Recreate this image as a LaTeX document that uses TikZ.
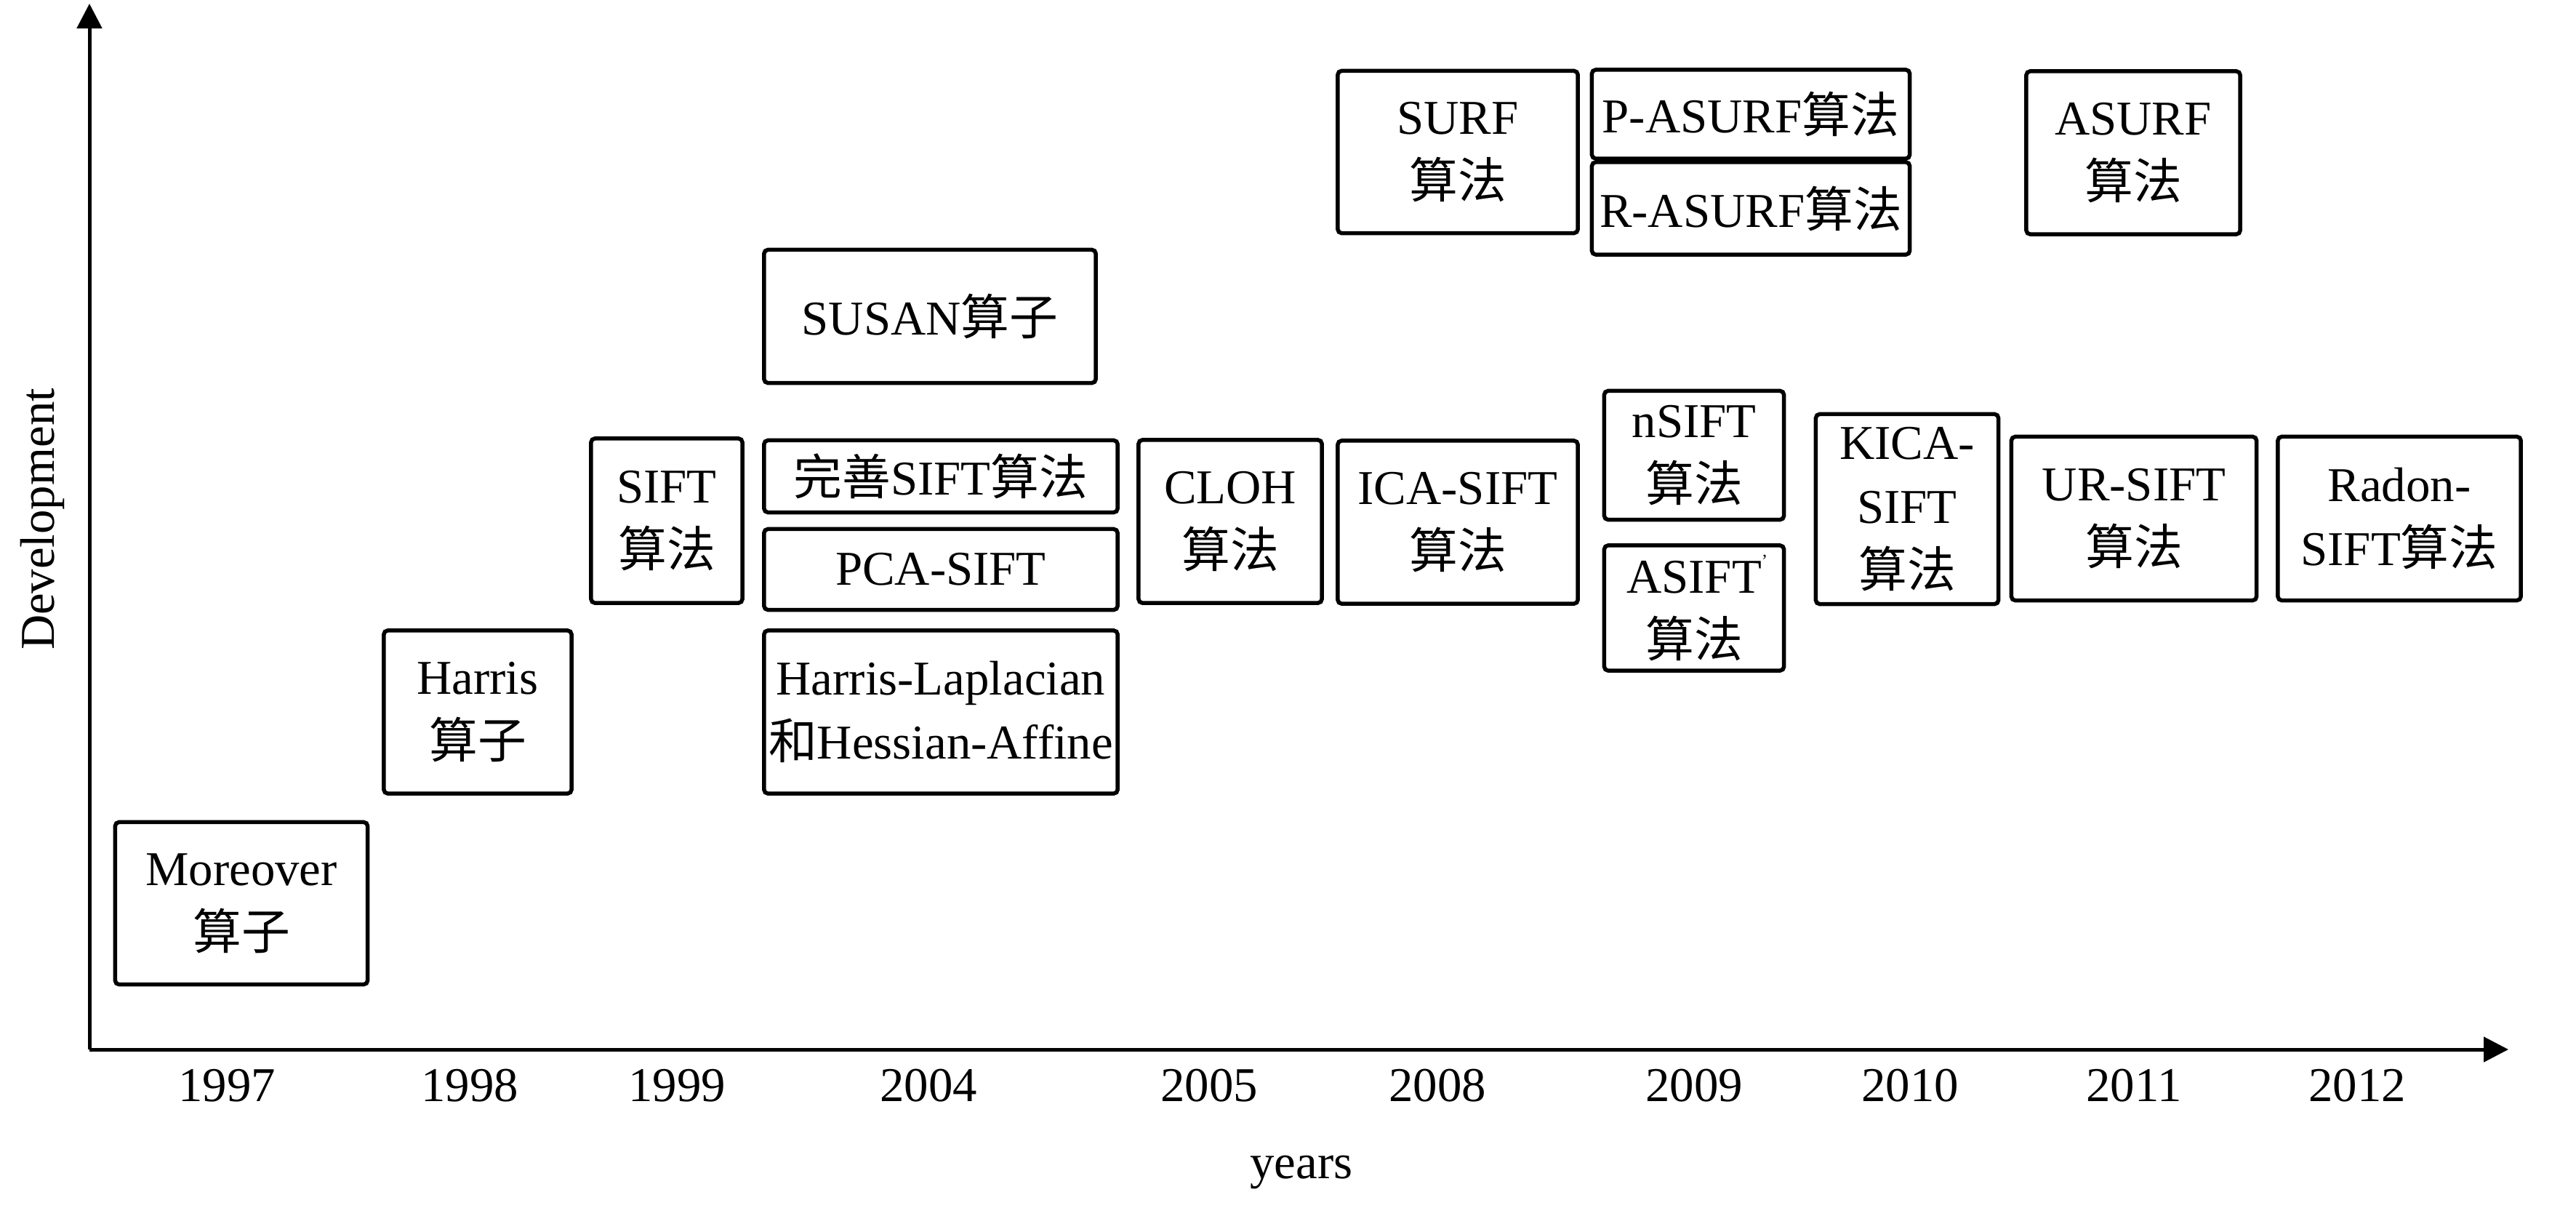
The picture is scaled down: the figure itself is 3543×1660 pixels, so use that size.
\documentclass[tikz,border=0pt]{standalone}
\usepackage{fontspec}
\setmainfont{Liberation Serif}
\newfontfamily\cjk{Noto Sans CJK SC}
\usetikzlibrary{arrows.meta}
\begin{document}
\begin{tikzpicture}[x=0.01cm,y=-0.01cm,
  every node/.style={font=\fontsize{19}{25}\selectfont},
  box/.style={draw, line width=0.055cm, rounded corners=1.5pt, align=center, inner sep=0pt},
  axis/.style={line width=0.05cm, -{Triangle[length=0.34cm,width=0.34cm]}},
  yearlbl/.style={inner sep=0pt}]
\useasboundingbox (0,0) rectangle (3543,1660);
% axes
\coordinate (O) at (123,1443);
\coordinate (Ytop) at (123,5);
\coordinate (Xend) at (3450,1443);
\draw[axis] (O) -- (Ytop);
\draw[axis] (O) -- (Xend);
\node[rotate=90] (dev) at (58,714) {Development};
\node (yrs) at (1790,1612) {years};
% year labels
\node[yearlbl] (y1997) at (312,1493) {1997};
\node[yearlbl] (y1998) at (646,1493) {1998};
\node[yearlbl] (y1999) at (931,1493) {1999};
\node[yearlbl] (y2004) at (1277,1493) {2004};
\node[yearlbl] (y2005) at (1663,1493) {2005};
\node[yearlbl] (y2008) at (1977,1493) {2008};
\node[yearlbl] (y2009) at (2330,1493) {2009};
\node[yearlbl] (y2010) at (2627,1493) {2010};
\node[yearlbl] (y2011) at (2935,1493) {2011};
\node[yearlbl] (y2012) at (3242,1493) {2012};
% boxes
\node[box, minimum width=3.47cm, minimum height=2.23cm] (moreover) at (332,1242) {Moreover\\{\cjk 算子}};
\node[box, minimum width=2.58cm, minimum height=2.24cm] (harris) at (657,979) {Harris\\{\cjk 算子}};
\node[box, minimum width=2.08cm, minimum height=2.26cm] (sift) at (917,716) {SIFT\\{\cjk 算法}};
\node[box, minimum width=4.56cm, minimum height=1.83cm] (susan) at (1279,435) {SUSAN{\cjk 算子}};
\node[box, minimum width=4.86cm, minimum height=0.99cm] (wanshan) at (1294,655) {{\cjk 完善}SIFT{\cjk 算法}};
\node[box, minimum width=4.86cm, minimum height=1.11cm] (pca) at (1294,783) {PCA-SIFT};
\node[box, minimum width=4.86cm, minimum height=2.24cm] (hl) at (1294,979) {Harris-Laplacian\\{\cjk 和}Hessian-Affine};
\node[box, minimum width=2.52cm, minimum height=2.24cm] (cloh) at (1692,717) {CLOH\\{\cjk 算法}};
\node[box, minimum width=3.30cm, minimum height=2.24cm] (ica) at (2005,718) {ICA-SIFT\\{\cjk 算法}};
\node[box, minimum width=3.30cm, minimum height=2.23cm] (surf) at (2005,209) {SURF\\{\cjk 算法}};
\node[box, minimum width=4.37cm, minimum height=1.22cm] (pasurf) at (2408,157) {P-ASURF{\cjk 算法}};
\node[box, minimum width=4.37cm, minimum height=1.27cm] (rasurf) at (2408,286.5) {R-ASURF{\cjk 算法}};
\node[box, minimum width=2.47cm, minimum height=1.77cm] (nsift) at (2330,626) {nSIFT\\{\cjk 算法}};
\node[box, minimum width=2.47cm, minimum height=1.72cm] (asift) at (2330,836) {ASIFT\rlap{\raisebox{1.2ex}{\fontsize{7}{7}\selectfont '}}\\{\cjk 算法}};
\node[box, minimum width=2.51cm, minimum height=2.61cm] (kica) at (2623,700) {KICA-\\SIFT\\{\cjk 算法}};
\node[box, minimum width=3.37cm, minimum height=2.25cm] (ursift) at (2935,713) {UR-SIFT\\{\cjk 算法}};
\node[box, minimum width=3.34cm, minimum height=2.25cm] (radon) at (3300,713) {Radon-\\SIFT{\cjk 算法}};
\node[box, minimum width=2.94cm, minimum height=2.24cm] (asurf) at (2934,210) {ASURF\\{\cjk 算法}};
\end{tikzpicture}
\end{document}
